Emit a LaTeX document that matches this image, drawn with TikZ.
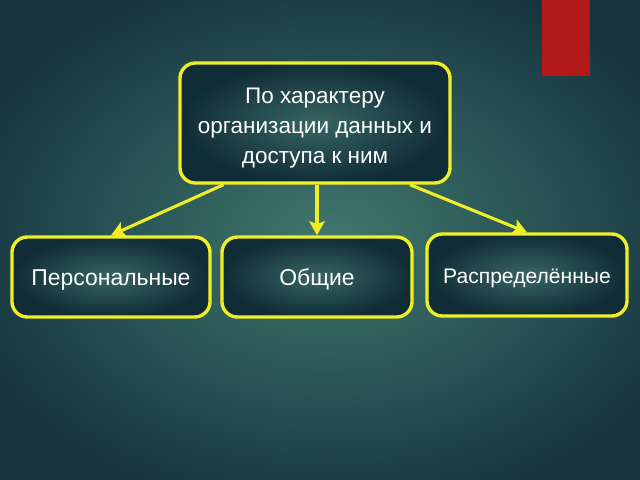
\documentclass[tikz,border=0pt]{standalone}
\usepackage{fontspec}
\setmainfont{Liberation Sans}
\usetikzlibrary{arrows.meta}
\definecolor{bgin}{RGB}{64,120,108}
\definecolor{bgout}{RGB}{22,52,64}
\definecolor{boxin}{RGB}{56,102,98}
\definecolor{boxout}{RGB}{16,44,54}
\definecolor{ylw}{RGB}{240,238,40}
\definecolor{flag}{RGB}{178,26,26}

\begin{document}
\begin{tikzpicture}[x=0.025cm,y=-0.025cm,
  card/.style={draw=ylw, line width=2.4pt, rounded corners=11pt,
    inner color=boxin, outer color=boxout, text=white,
    align=center, font=\fontsize{16.3}{21}\selectfont},
  kindcard/.style={card, minimum height=2cm, text height=16pt, text depth=4pt},
  link/.style={draw=ylw, line width=2.2pt, -{Stealth[length=10pt,width=11pt,inset=2pt]}}]
\useasboundingbox (0,0) rectangle (640,480);
\shade[inner color=bgin, outer color=bgout] (-60,-40) rectangle (720,520);

% red tab in the corner
\fill[flag] (542,0) rectangle (590,76);

% main box
\node[card, minimum width=6.75cm, minimum height=3cm, font=\fontsize{16}{21.5}\selectfont]
  (kind) at (315,123) {\rule{0pt}{18pt}По характеру\\организации данных и\\доступа к ним};

% three kinds
\node[kindcard, minimum width=4.95cm] (pers) at (111,277) {Персональные};
\node[kindcard, minimum width=4.75cm] (comm) at (317,277) {Общие};
\node[kindcard, minimum width=5cm, minimum height=2.05cm, font=\fontsize{15}{18}\selectfont]
  (dist) at (527,275) {Распределённые};

\draw[link] (kind.-146) -- (pers.north);
\draw[link] (comm.north |- kind.south) -- (comm.north);
\draw[link] (kind.-33) -- (dist.north);

\end{tikzpicture}
\end{document}
